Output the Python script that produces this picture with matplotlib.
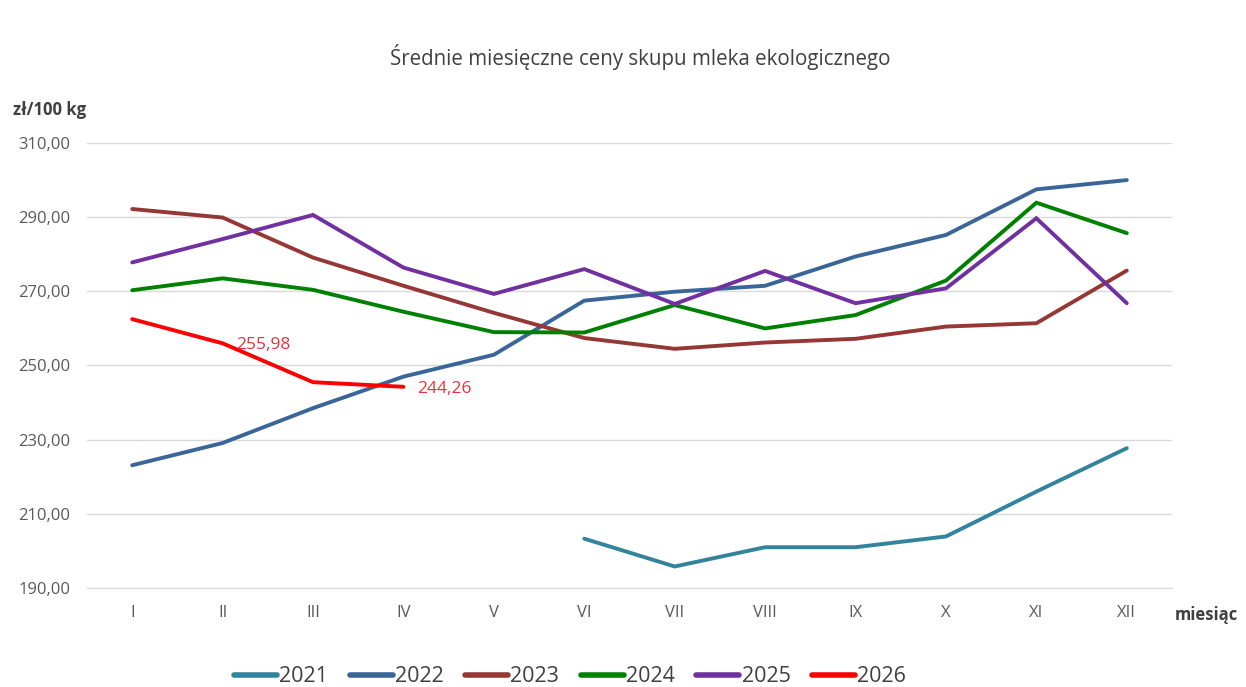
import matplotlib
matplotlib.use("Agg")
import matplotlib.pyplot as plt
import numpy as np

plt.rcParams['font.family'] = ['Open Sans', 'DejaVu Sans']

months = ["I", "II", "III", "IV", "V", "VI", "VII", "VIII", "IX", "X", "XI", "XII"]
nan = np.nan
y2021 = [nan, nan, nan, nan, nan, 203.3, 195.8, 201.0, 201.0, 203.9, 216.0, 227.7]
y2022 = [223.1, 229.1, 238.5, 247.0, 252.9, 267.5, 269.9, 271.5, 279.4, 285.2, 297.5, 300.0]
y2023 = [292.2, 289.9, 279.1, 271.5, 264.2, 257.4, 254.5, 256.2, 257.2, 260.5, 261.4, 275.6]
y2024 = [270.3, 273.5, 270.4, 264.5, 259.0, 258.9, 266.3, 260.0, 263.6, 272.9, 293.9, 285.7]
y2025 = [277.8, 284.1, 290.6, 276.4, 269.3, 276.0, 266.6, 275.5, 266.8, 270.8, 289.7, 266.8]
y2026 = [262.5, 255.98, 245.5, 244.26, nan, nan, nan, nan, nan, nan, nan, nan]

series = [
    ("2021", y2021, "#31849B"),
    ("2022", y2022, "#3A6598"),
    ("2023", y2023, "#953735"),
    ("2024", y2024, "#008000"),
    ("2025", y2025, "#7030A0"),
    ("2026", y2026, "#FF0000"),
]
yticks = [190, 210, 230, 250, 270, 290, 310]

fig = plt.figure(figsize=(12.46, 6.87), dpi=100)
ax = fig.add_axes([87/1246, 1-588/687, (1172-87)/1246, (588-143)/687])
x = np.arange(len(months))
for name, vals, col in series:
    ax.plot(x, vals, color=col, lw=2.8, label=name, solid_capstyle='round', solid_joinstyle='miter')

# data labels for 2026
ax.text(1 + 0.15, y2026[1] - 0.5, "255,98", color="#E8323C", fontsize=12.5, va='center', ha='left')
ax.text(3 + 0.15, y2026[3] - 0.6, "244,26", color="#E8323C", fontsize=12.5, va='center', ha='left')

ax.set_xlim(-0.5, 11.5)
ax.set_ylim(190, 310)
ax.set_yticks(yticks)
ax.set_yticklabels([f"{v:.2f}".replace('.', ',') for v in yticks], color="#595959", fontsize=12)
ax.set_xticks(x)
ax.set_xticklabels(months, color="#595959", fontsize=12)
ax.tick_params(axis='y', length=0, pad=12)
ax.tick_params(axis='x', length=0, pad=12)
ax.grid(axis='y', color="#D9D9D9", lw=1)
ax.set_axisbelow(True)
for s in ['top', 'right', 'left']:
    ax.spines[s].set_visible(False)
ax.spines['bottom'].set_color("#D9D9D9")

fig.text(640/1246, 1-57/687, "Średnie miesięczne ceny skupu mleka ekologicznego", ha='center', va='center',
         fontsize=14.8, color="#404040")
fig.text(13/1246, 1-110/687, "zł/100 kg", ha='left', va='center', fontsize=12, fontweight='bold', color="#404040")
fig.text(1175/1246, 1-615/687, "miesiąc", ha='left', va='center', fontsize=12, fontweight='bold', color="#404040")

leg = fig.legend(loc='center', bbox_to_anchor=(570/1246, 1-677/687), ncol=6, frameon=False,
                 fontsize=15.5, handlelength=2.0, handletextpad=0.1, columnspacing=1.0)
for line in leg.get_lines():
    line.set_linewidth(4)
    line.set_solid_capstyle('round')
for t in leg.get_texts():
    t.set_color("#404040")

fig.savefig("out.png", dpi=100, facecolor='white')
